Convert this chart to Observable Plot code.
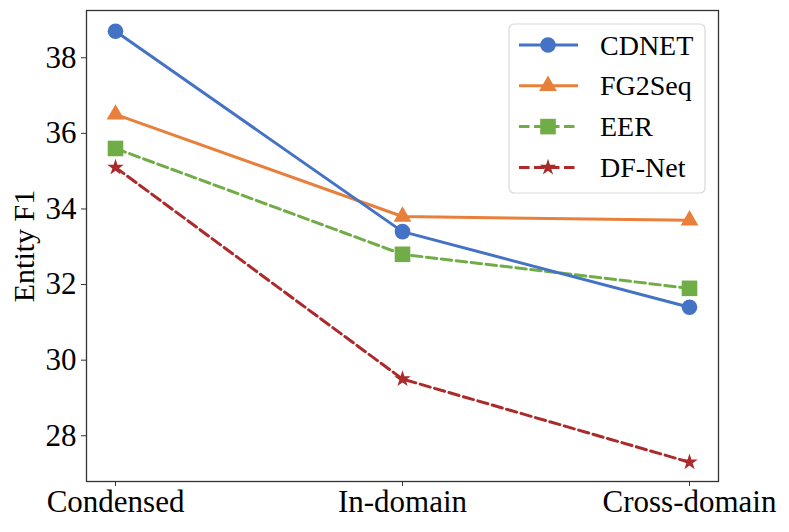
<!DOCTYPE html>
<html><head><meta charset="utf-8">
<script src="https://cdn.jsdelivr.net/npm/d3@7"></script>
<script src="https://cdn.jsdelivr.net/npm/@observablehq/plot@0.6"></script>
<style>
html,body{margin:0;padding:0;background:#fff;}
#chart{position:relative;width:789px;height:532px;}
</style></head><body><div id="chart"></div>
<script>
const categories = ["Condensed", "In-domain", "Cross-domain"];
const seriesNames = ["CDNET", "FG2Seq", "EER", "DF-Net"];
const cdnet = [38.7, 33.4, 31.4];
const fg2seq = [36.5, 33.8, 33.7];
const eer = [35.6, 32.8, 31.9];
const dfnet = [35.1, 29.5, 27.3];
const yTicks = [28, 30, 32, 34, 36, 38];
const yLabel = "Entity F1";

const colors = ["#4472c4", "#e8803c", "#70ad47", "#ac2a2a"];
const symbols = ["circle", "triangle", "square", "star"];
const d3symbols = [d3.symbolCircle, d3.symbolTriangle, d3.symbolSquare, d3.symbolStar];
const radii = [7.8, 6.6, 8.8, 5.2];
const dashes = [null, null, "10.5,4.5", "10.5,4.5"];
const FONT = "'Liberation Serif', 'Times New Roman', Times, serif";

const series = [cdnet, fg2seq, eer, dfnet];
const rows = series.map((vals, i) => vals.map((v, j) => ({category: categories[j], value: v, series: seriesNames[i]})));

const marks = [];
const drawOrder = [1, 2, 3, 0];
for (const i of drawOrder) {
  const lineOpts = {x: "category", y: "value", stroke: colors[i], strokeWidth: 3};
  if (dashes[i]) lineOpts.strokeDasharray = dashes[i];
  marks.push(Plot.line(rows[i], lineOpts));
  marks.push(Plot.dot(rows[i], {x: "category", y: "value", fill: colors[i], stroke: "none", symbol: symbols[i], r: radii[i]}));
}
marks.push(Plot.frame({stroke: "#333", strokeWidth: 1.3}));
marks.push(Plot.axisY({ticks: yTicks, tickSize: 5, tickPadding: 5, label: null, stroke: "#333", fontSize: 31}));
marks.push(Plot.axisY({ticks: [], tickSize: 0, label: yLabel, labelAnchor: "center", labelArrow: "none", labelOffset: 74, fontSize: 30}));
marks.push(Plot.axisX({tickSize: 5, tickPadding: 3, label: null, stroke: "#333", fontSize: 31}));

const chart = Plot.plot({
  width: 789, height: 532,
  marginLeft: 86, marginRight: 71, marginTop: 10, marginBottom: 51,
  style: {fontFamily: FONT, fontSize: "31px", color: "#000", background: "#fff", overflow: "visible"},
  x: {type: "point", domain: categories, padding: 0.1},
  y: {domain: [26.79, 39.25]},
  marks
});
document.getElementById("chart").appendChild(chart);

// legend
const svg = d3.select(chart);
const lg = svg.append("g").attr("text-anchor", "start");
lg.append("rect").attr("x", 509).attr("y", 24).attr("width", 196).attr("height", 169)
  .attr("rx", 5).attr("fill", "#fff").attr("fill-opacity", 0.85).attr("stroke", "#d9d9d9").attr("stroke-width", 1.2);
seriesNames.forEach((name, i) => {
  const y = 45 + i * 40.8;
  const g = lg.append("g");
  g.append("line").attr("x1", 519).attr("x2", 578).attr("y1", y).attr("y2", y)
    .attr("stroke", colors[i]).attr("stroke-width", 3)
    .attr("stroke-dasharray", dashes[i] ? dashes[i] : null);
  g.append("path").attr("transform", `translate(548,${y})`)
    .attr("d", d3.symbol(d3symbols[i], Math.PI * radii[i] * radii[i])())
    .attr("fill", colors[i]);
  g.append("text").attr("x", 600).attr("y", y).attr("dy", "0.34em").attr("text-anchor", "start")
    .attr("font-family", FONT).attr("font-size", 28).attr("fill", "#000").text(name);
});
</script></body></html>
